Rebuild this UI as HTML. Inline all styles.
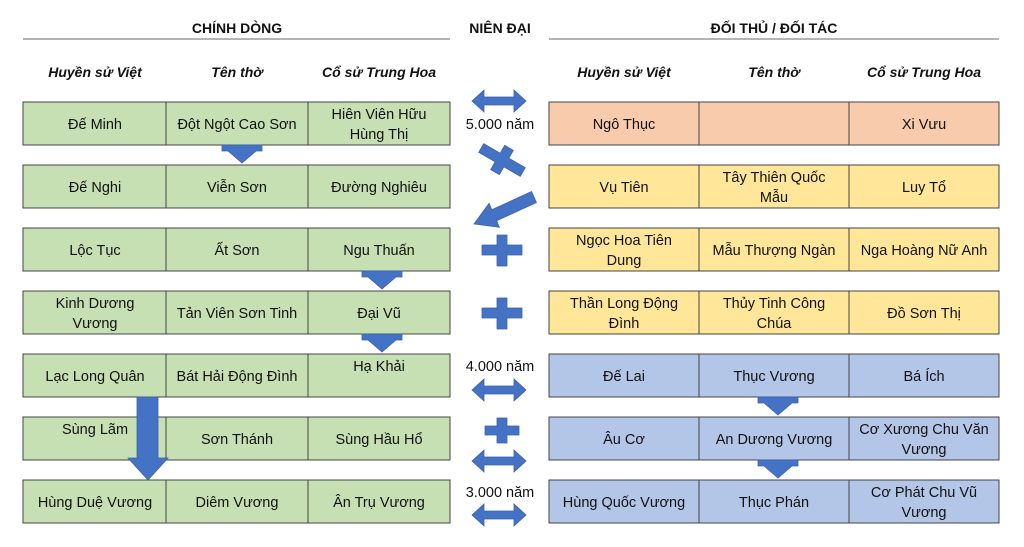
<!DOCTYPE html>
<html><head><meta charset="utf-8"><style>
body{margin:0;background:#fff;width:1024px;height:542px;overflow:hidden}
svg text{font-family:"Liberation Sans",sans-serif;font-size:14.5px;fill:#111;text-anchor:middle}
.h{font-weight:bold;font-size:14px}
.i{font-style:italic;font-weight:bold;font-size:14px}
</style></head><body>
<svg width="1024" height="542" viewBox="0 0 1024 542">
<line x1="23" y1="39" x2="450" y2="39" stroke="#888" stroke-width="1.2"/>
<line x1="549" y1="39" x2="999" y2="39" stroke="#888" stroke-width="1.2"/>
<text class="h" x="237" y="33">CHÍNH DÒNG</text>
<text class="h" x="500" y="33">NIÊN ĐẠI</text>
<text class="h" x="774" y="33">ĐỐI THỦ / ĐỐI TÁC</text>
<text class="i" x="95" y="77">Huyền sử Việt</text>
<text class="i" x="237" y="77">Tên thờ</text>
<text class="i" x="379" y="77">Cổ sử Trung Hoa</text>
<text class="i" x="624" y="77">Huyền sử Việt</text>
<text class="i" x="774" y="77">Tên thờ</text>
<text class="i" x="924" y="77">Cổ sử Trung Hoa</text>
<g stroke="#444" stroke-width="1">
<rect x="23" y="102" width="427" height="43" fill="#c6e0b4"/>
<rect x="23" y="165" width="427" height="43" fill="#c6e0b4"/>
<rect x="23" y="228" width="427" height="43" fill="#c6e0b4"/>
<rect x="23" y="291" width="427" height="43" fill="#c6e0b4"/>
<rect x="23" y="354" width="427" height="43" fill="#c6e0b4"/>
<rect x="23" y="417" width="427" height="43" fill="#c6e0b4"/>
<rect x="23" y="480" width="427" height="43" fill="#c6e0b4"/>
<rect x="549" y="102" width="450" height="43" fill="#f8cbad"/>
<rect x="549" y="165" width="450" height="43" fill="#ffe699"/>
<rect x="549" y="228" width="450" height="43" fill="#ffe699"/>
<rect x="549" y="291" width="450" height="43" fill="#ffe699"/>
<rect x="549" y="354" width="450" height="43" fill="#b4c6e7"/>
<rect x="549" y="417" width="450" height="43" fill="#b4c6e7"/>
<rect x="549" y="480" width="450" height="43" fill="#b4c6e7"/>
<path d="M166 102V145M308 102V145M166 165V208M308 165V208M166 228V271M308 228V271M166 291V334M308 291V334M166 354V397M308 354V397M166 417V460M308 417V460M166 480V523M308 480V523"/>
<path d="M699 102V145M849 102V145M699 165V208M849 165V208M699 228V271M849 228V271M699 291V334M849 291V334M699 354V397M849 354V397M699 417V460M849 417V460M699 480V523M849 480V523"/>
</g>
<g fill="#4472c4" stroke="#3a63ad" stroke-width="0.8">
<path d="M222 145H262V151H256L242 163L228 151H222Z"/>
<path d="M362 271H402V277H396L382 289L368 277H362Z"/>
<path d="M362 334H402V340H396L382 352L368 340H362Z"/>
<path d="M758 397H798V403H792L778 415L764 403H758Z"/>
<path d="M758 460H798V466H792L778 478L764 466H758Z"/>
<path d="M137 397H158V458H168L148 480L128 458H137Z"/>
<path id="da" d="M472 101L484 90V97H514V90L526 101L514 112V105H484V112Z"/>
<use href="#da" transform="translate(0,289)"/>
<use href="#da" transform="translate(0,360)"/>
<use href="#da" transform="translate(0,414)"/>
<g transform="translate(502,160) rotate(30)"><path d="M-5 -14H5V-5H24V5H5V14H-5V5H-24V-5H-5Z"/></g>
<path d="M536.4 202.5L531.6 191.5L491.8 209.8L489.1 203.3L474 224L499.3 227.3L496.6 220.8Z"/>
<path id="pl" d="M497 235H507V245H522V255H507V266H497V255H482V245H497Z"/>
<use href="#pl" transform="translate(0,63)"/>
<path d="M497 418H507V426H519V435H507V443H497V435H485V426H497Z"/>
</g>
<text x="500" y="129">5.000 năm</text>
<text x="500" y="371">4.000 năm</text>
<text x="500" y="497">3.000 năm</text>
<g>
<text x="95" y="129">Đế Minh</text><text x="237" y="129">Đột Ngột Cao Sơn</text><text x="379" y="119">Hiên Viên Hữu</text><text x="379" y="139">Hùng Thị</text>
<text x="95" y="192">Đế Nghi</text><text x="237" y="192">Viễn Sơn</text><text x="379" y="192">Đường Nghiêu</text>
<text x="95" y="255">Lộc Tục</text><text x="237" y="255">Ất Sơn</text><text x="379" y="255">Ngu Thuấn</text>
<text x="95" y="308">Kinh Dương</text><text x="95" y="328">Vương</text><text x="237" y="318">Tản Viên Sơn Tinh</text><text x="379" y="318">Đại Vũ</text>
<text x="95" y="381">Lạc Long Quân</text><text x="237" y="381">Bát Hải Động Đình</text><text x="379" y="371">Hạ Khải</text>
<text x="95" y="434">Sùng Lãm</text><text x="237" y="444">Sơn Thánh</text><text x="379" y="444">Sùng Hầu Hổ</text>
<text x="95" y="507">Hùng Duệ Vương</text><text x="237" y="507">Diêm Vương</text><text x="379" y="507">Ân Trụ Vương</text>
<text x="624" y="129">Ngô Thục</text><text x="924" y="129">Xi Vưu</text>
<text x="624" y="192">Vụ Tiên</text><text x="774" y="182">Tây Thiên Quốc</text><text x="774" y="202">Mẫu</text><text x="924" y="192">Luy Tổ</text>
<text x="624" y="245">Ngọc Hoa Tiên</text><text x="624" y="265">Dung</text><text x="774" y="255">Mẫu Thượng Ngàn</text><text x="924" y="255">Nga Hoàng Nữ Anh</text>
<text x="624" y="308">Thần Long Động</text><text x="624" y="328">Đình</text><text x="774" y="308">Thủy Tinh Công</text><text x="774" y="328">Chúa</text><text x="924" y="318">Đồ Sơn Thị</text>
<text x="624" y="381">Đế Lai</text><text x="774" y="381">Thục Vương</text><text x="924" y="381">Bá Ích</text>
<text x="624" y="444">Âu Cơ</text><text x="774" y="444">An Dương Vương</text><text x="924" y="434">Cơ Xương Chu Văn</text><text x="924" y="454">Vương</text>
<text x="624" y="507">Hùng Quốc Vương</text><text x="774" y="507">Thục Phán</text><text x="924" y="497">Cơ Phát Chu Vũ</text><text x="924" y="517">Vương</text>
</g>
</svg>
</body></html>
